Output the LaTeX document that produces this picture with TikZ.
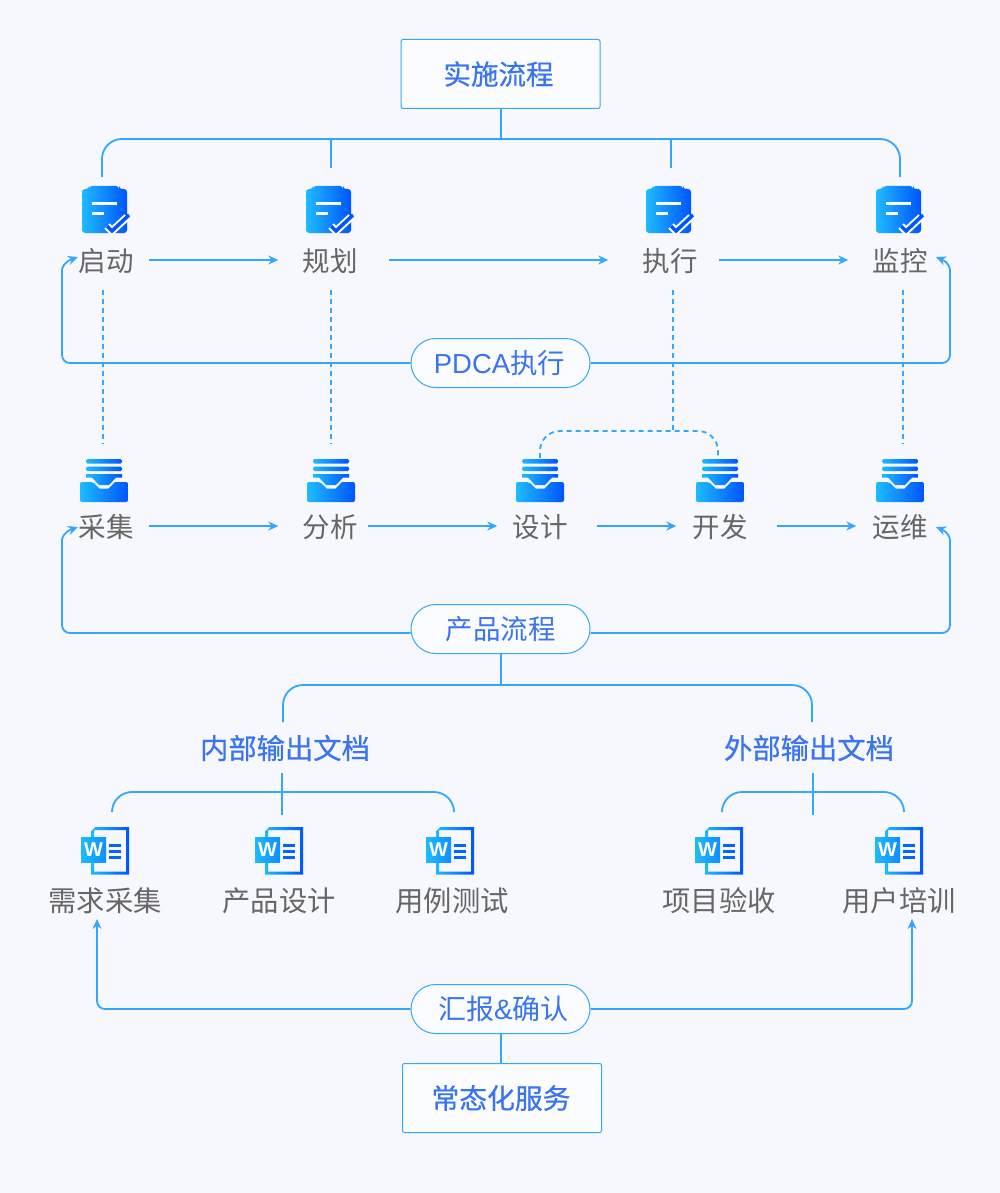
\documentclass[tikz,border=0pt]{standalone}
\usepackage{fontspec}
\setmainfont{Noto Sans CJK SC}
\newfontfamily\cjkmed[FakeBold=0.6]{Noto Sans CJK SC}
\newfontfamily\wordfont[BoldFont=Liberation Sans Bold]{Liberation Sans}
\usetikzlibrary{arrows.meta}

\definecolor{pagebg}{HTML}{F6F8FD}
\definecolor{pillbg}{HTML}{FAFCFF}
\definecolor{linkblue}{HTML}{33A7FF}
\definecolor{titleblue}{HTML}{3B74F0}
\definecolor{labelgrey}{HTML}{666666}
\definecolor{iconfrom}{HTML}{1EBBFF}
\definecolor{iconto}{HTML}{0055FF}

\tikzset{
    link/.style={color=linkblue,line width=1.8pt},
    bus/.style={link,rounded corners=20pt},
    flow/.style={link,-{Stealth[length=10pt,width=9pt]}},
    flowcurve/.style={flow,rounded corners=8pt},
    dashlink/.style={link,dash pattern=on 5pt off 4pt},
    label/.style={inner sep=0pt,text height=27pt,text depth=4pt,text=labelgrey,font=\fontsize{27.5}{30}\selectfont},
    doclabel/.style={inner sep=0pt,text=labelgrey,font=\fontsize{28.3}{30}\selectfont},
    heading/.style={inner sep=0pt,text=titleblue,font=\cjkmed\fontsize{27.5}{30}\selectfont},
    framebox/.style={heading,draw=linkblue,line width=1pt,fill=pillbg,rounded corners=2pt,minimum height=69pt},
    pill/.style={inner sep=0pt,text=titleblue,font=\fontsize{27.5}{30}\selectfont,draw=linkblue,line width=1pt,fill=pillbg,rounded corners=24.5pt,minimum width=179pt,minimum height=49pt},
    grad/.style={left color=iconfrom,right color=iconto,draw=none},
    pics/clipicon/.style={code={ % origin at top left of the icon
        \path[grad,rounded corners=3pt] (0,3) -- (7,3) -- (7,0) -- (37,0) -- (37,3) -- (45,3) -- (45,47) -- (0,47) -- cycle;
        \fill[white] (10,16) rectangle (35,18.5);
        \fill[white] (10,26) rectangle (22,28.5);
        \draw[white,line width=7.5pt,line join=round] (25,40) -- (30,45) -- (45,31);
        \draw[iconto,line width=3.5pt] (25,40) -- (30,45) -- (47,29);
    }},
    pics/trayicon/.style={code={ % origin at top left of the icon
        \path[grad,rounded corners=1.5pt] (6,0) rectangle (42,4.5);
        \path[grad,rounded corners=1.5pt] (6,7.5) rectangle (42,12);
        \path[grad] (6,15) -- (42,15) -- (42,18.5) -- (36,18.5) -- (29,26) -- (19,26) -- (12,18.5) -- (6,18.5) -- cycle;
        \path[grad,rounded corners=2pt] (0,23) -- (13,23) [sharp corners] -- (19.5,29.5) -- (28.5,29.5) -- (35,23) [rounded corners=2pt] -- (48,23) -- (48,43) -- (0,43) -- cycle;
    }},
    pics/wordicon/.style={code={ % origin at top left of the icon
        \path[grad,even odd rule] (10,0) rectangle (48,47.5) (13,3) rectangle (45,44.5);
        \fill[pagebg] (10,0) -- (14,0) -- (10,4) -- cycle;
        \path[left color=iconfrom,right color=iconto!45!iconfrom] (0,10) rectangle (25,35);
        \node (-letter) at (12.5,22.5) [inner sep=0pt,text=white,font=\wordfont\bfseries\fontsize{20}{20}\selectfont] {W};
        \foreach \Row in {18,24,30}{
            \fill[iconto!85!iconfrom] (28,\Row-1.5) rectangle (40,\Row+1.5);
        }
    }},
}

\begin{document}
\begin{tikzpicture}[x=1pt,y=-1pt]

\useasboundingbox (0,0) rectangle (1000,1193);
\fill[pagebg] (0,0) rectangle (1000,1193);

% junctions and free ends
\coordinate (busTop) at (501,139);
\coordinate (tickA) at (102,177);
\coordinate (tickB) at (331,168);
\coordinate (tickC) at (671,168);
\coordinate (tickD) at (900,177);
\coordinate (busDoc) at (501,685);
\coordinate (tickIn) at (283,722);
\coordinate (tickOut) at (812,722);
\coordinate (busIn) at (282,792);
\coordinate (inTop) at (282,773);
\coordinate (inMid) at (282,815);
\coordinate (inA) at (112,811);
\coordinate (inC) at (454,811);
\coordinate (busOut) at (813,792);
\coordinate (outTop) at (813,773);
\coordinate (outMid) at (813,815);
\coordinate (outA) at (722,811);
\coordinate (outB) at (904,811);
\coordinate (dashFork) at (673,431);
\coordinate (dashDesign) at (540,458);
\coordinate (dashDev) at (718,458);
\coordinate (leftPlan) at (62,278);
\coordinate (rightPlan) at (950,278);
\coordinate (tipStart) at (78,257);
\coordinate (tipMonitor) at (936,257);
\coordinate (leftProd) at (62,548);
\coordinate (rightProd) at (950,548);
\coordinate (tipCollect) at (78,527);
\coordinate (tipOps) at (936,527);
\coordinate (tipReq) at (97,919);
\coordinate (tipTrain) at (912,919);

% boxes and pills
\node [framebox,minimum width=199pt] (root) at (500.5,74) {\hspace*{-4pt}实施流程};
\node [framebox,minimum width=199pt] (service) at (502,1098) {\hspace*{-2pt}\fontsize{27.8}{30}\selectfont 常态化服务};
\node [pill] (pdca) at (500.5,363) {\hspace*{-2pt}{\wordfont PDCA}执行};
\node [pill] (product) at (500.5,629) {产品流程};
\node [pill] (report) at (500.5,1009) {\hspace*{6pt}\fontsize{28}{30}\selectfont 汇报{\wordfont\&}确认};

% stage labels
\foreach \Name/\X/\Text in {start/106/启动, plan/330/规划, exec/670/执行, monitor/900/监控}{
    \node [label] (\Name) at (\X,260) {\Text};
}
\foreach \Name/\X/\Text in {collect/106/采集, analyse/330/分析, design/540/设计, dev/720/开发, ops/900/运维}{
    \node [label] (\Name) at (\X,526) {\Text};
}
\node [heading,font=\cjkmed\fontsize{28.3}{30}\selectfont] (inDocs) at (285,748) {内部输出文档};
\node [heading,font=\cjkmed\fontsize{28.3}{30}\selectfont] (outDocs) at (809,748) {外部输出文档};
\foreach \Name/\X/\Text in {reqDoc/105/需求采集, prodDoc/279/产品设计, caseDoc/452/用例测试, acceptDoc/719/项目验收, trainDoc/899/用户培训}{
    \node [doclabel] (\Name) at (\X,901) {\Text};
}

% icons
\foreach \X in {82,306,646,876}{
    \pic at (\X,186) {clipicon};
}
\foreach \X in {80,307,516,696,876}{
    \pic at (\X,459) {trayicon};
}
\foreach \X/\Name in {81/a,255/b,426/c,695/d,875/e}{
    \pic (word\Name) at (\X,827) {wordicon};
}

% brackets
\draw[link] (root.south -| busTop) -- (busTop);
\draw[bus] (tickA) |- (busTop) -| (tickD);
\draw[link] (tickB |- busTop) -- (tickB);
\draw[link] (tickC |- busTop) -- (tickC);
\draw[link] (product.south -| busDoc) -- (busDoc);
\draw[bus] (tickIn) |- (busDoc) -| (tickOut);
\draw[link] (inTop) -- (inMid);
\draw[bus] (inA) |- (busIn) -| (inC);
\draw[link] (outTop) -- (outMid);
\draw[bus] (outA) |- (busOut) -| (outB);
\draw[link] (report.south -| busDoc) -- (service.north -| busDoc);

% arrows between stages
\foreach \From/\To/\Gap/\End in {start/plan/15/24, plan/exec/31/34, exec/monitor/21/24, collect/analyse/15/24, analyse/design/10/15, design/dev/29/16, dev/ops/29/16}{
    \draw[flow,shorten <=\Gap pt,shorten >=\End pt] (\From) -- (\To);
}

% dashed links
\foreach \I/\X/\Y in {a/103/444, b/331/444, c/673/431, d/903/444}{
    \coordinate (dashTop\I) at (\X,290);
    \coordinate (dashEnd\I) at (\X,\Y);
    \draw[dashlink] (dashTop\I) -- (dashEnd\I);
}
\draw[dashlink,rounded corners=20pt] (dashDesign) |- (dashFork) -| (dashDev);

% feedback arrows
\draw[flowcurve] (pdca.west) -| (leftPlan) [sharp corners] .. controls (62,268) and (64,262) .. (tipStart);
\draw[flowcurve] (pdca.east) -| (rightPlan) [sharp corners] .. controls (950,268) and (948,262) .. (tipMonitor);
\draw[flowcurve] (product.west |- 0,633) -| (leftProd) [sharp corners] .. controls (62,538) and (64,532) .. (tipCollect);
\draw[flowcurve] (product.east |- 0,633) -| (rightProd) [sharp corners] .. controls (950,538) and (948,532) .. (tipOps);
\draw[flowcurve] (report.west) -| (tipReq);
\draw[flowcurve] (report.east) -| (tipTrain);

\end{tikzpicture}
\end{document}
